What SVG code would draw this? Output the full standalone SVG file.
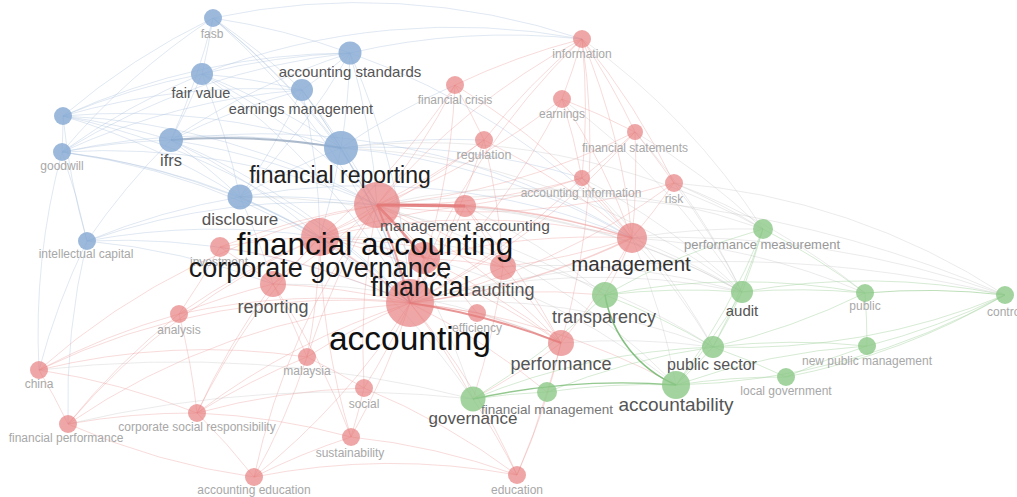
<svg xmlns="http://www.w3.org/2000/svg" width="1017" height="497" viewBox="0 0 1017 497">
<style>
text{font-family:"Liberation Sans",Arial,sans-serif;text-anchor:middle}
.e path{fill:none;stroke-width:.8}
.b{stroke:#a9bedb;stroke-opacity:.45}
.r{stroke:#e88e8e;stroke-opacity:.4}
.g{stroke:#98cc93;stroke-opacity:.5}
.x{stroke:#b5b5b5;stroke-opacity:.35}
.nb{fill:#86a9d3;fill-opacity:.82}
.nr{fill:#e67c7c;fill-opacity:.68}
.ng{fill:#8cc887;fill-opacity:.8}
.s{font-size:12px;fill:#a8a8a8}
.m{fill:#555}
</style>
<rect width="1017" height="497" fill="#fff"/>
<g id="connectors" class="e">
<path class="b" d="M213 18A700 700 0 0 1 202 74"/>
<path class="b" d="M213 18A700 700 0 0 1 350 53"/>
<path class="b" d="M213 18A700 700 0 0 1 302 90"/>
<path class="b" d="M213 18A700 700 0 0 1 171 140"/>
<path class="b" d="M213 18A700 700 0 0 1 341 148"/>
<path class="b" d="M63 116A700 700 0 0 1 213 18"/>
<path class="b" d="M213 18A700 700 0 0 1 582 39"/>
<path class="b" d="M213 18A700 700 0 0 1 377 205"/>
<path class="b" d="M62 152A700 700 0 0 1 213 18"/>
<path class="b" d="M213 18A700 700 0 0 1 410 303"/>
<path class="b" d="M202 74A700 700 0 0 1 350 53"/>
<path class="b" d="M202 74A700 700 0 0 1 302 90"/>
<path class="b" d="M202 74A700 700 0 0 1 171 140"/>
<path class="b" d="M202 74A700 700 0 0 1 341 148"/>
<path class="b" d="M63 116A700 700 0 0 1 202 74"/>
<path class="b" d="M62 152A700 700 0 0 1 202 74"/>
<path class="b" d="M202 74A700 700 0 0 1 377 205"/>
<path class="b" d="M202 74A700 700 0 0 1 240 197"/>
<path class="b" d="M202 74A700 700 0 0 1 410 303"/>
<path class="b" d="M202 74A700 700 0 0 1 582 39"/>
<path class="b" d="M350 53A700 700 0 0 1 302 90"/>
<path class="b" d="M171 140A700 700 0 0 1 350 53"/>
<path class="b" d="M350 53A700 700 0 0 1 341 148"/>
<path class="b" d="M350 53A700 700 0 0 1 377 205"/>
<path class="b" d="M350 53A700 700 0 0 1 240 197"/>
<path class="b" d="M350 53A700 700 0 0 1 410 303"/>
<path class="b" d="M62 152A700 700 0 0 1 350 53"/>
<path class="b" d="M63 116A700 700 0 0 1 350 53"/>
<path class="b" d="M350 53A700 700 0 0 1 632 238"/>
<path class="b" d="M350 53A700 700 0 0 1 582 39"/>
<path class="b" d="M171 140A700 700 0 0 1 302 90"/>
<path class="b" d="M302 90A700 700 0 0 1 341 148"/>
<path class="b" d="M302 90A700 700 0 0 1 240 197"/>
<path class="b" d="M302 90A700 700 0 0 1 377 205"/>
<path class="b" d="M302 90A700 700 0 0 1 320 237"/>
<path class="b" d="M302 90A700 700 0 0 1 410 303"/>
<path class="b" d="M63 116A700 700 0 0 1 302 90"/>
<path class="b" d="M62 152A700 700 0 0 1 302 90"/>
<path class="b" d="M63 116A700 700 0 0 1 62 152"/>
<path class="b" d="M63 116A700 700 0 0 1 171 140"/>
<path class="b" d="M63 116A700 700 0 0 1 341 148"/>
<path class="b" d="M63 116A700 700 0 0 1 377 205"/>
<path class="b" d="M63 116A700 700 0 0 1 240 197"/>
<path class="b" d="M63 116A700 700 0 0 1 410 303"/>
<path class="b" d="M87 241A700 700 0 0 1 63 116"/>
<path class="b" d="M62 152A700 700 0 0 1 171 140"/>
<path class="b" d="M62 152A700 700 0 0 1 341 148"/>
<path class="b" d="M62 152A700 700 0 0 1 240 197"/>
<path class="b" d="M62 152A700 700 0 0 1 87 241"/>
<path class="b" d="M62 152A700 700 0 0 1 377 205"/>
<path class="b" d="M62 152A700 700 0 0 1 410 303"/>
<path class="b" d="M39 370A700 700 0 0 1 62 152"/>
<path class="b" d="M62 152A700 700 0 0 1 320 237"/>
<path class="b" d="M171 140A700 700 0 0 1 240 197"/>
<path class="b" d="M171 140A700 700 0 0 1 377 205"/>
<path class="b" d="M171 140A700 700 0 0 1 410 303"/>
<path class="b" d="M171 140A700 700 0 0 1 320 237"/>
<path class="b" d="M171 140A700 700 0 0 1 632 238"/>
<path class="b" d="M87 241A700 700 0 0 1 171 140"/>
<path class="b" d="M240 197A700 700 0 0 1 341 148"/>
<path class="b" d="M341 148A700 700 0 0 1 320 237"/>
<path class="b" d="M341 148A700 700 0 0 1 632 238"/>
<path class="b" d="M341 148A700 700 0 0 1 582 178"/>
<path class="b" d="M341 148A700 700 0 0 1 484 140"/>
<path class="b" d="M341 148A700 700 0 0 1 455 85"/>
<path class="b" d="M240 197A700 700 0 0 1 377 205"/>
<path class="b" d="M240 197A700 700 0 0 1 320 237"/>
<path class="b" d="M240 197A700 700 0 0 1 410 303"/>
<path class="b" d="M87 241A700 700 0 0 1 240 197"/>
<path class="b" d="M240 197A700 700 0 0 1 273 284"/>
<path class="b" d="M240 197A700 700 0 0 1 632 238"/>
<path class="b" d="M87 241A700 700 0 0 1 377 205"/>
<path class="b" d="M87 241A700 700 0 0 1 410 303"/>
<path class="b" d="M87 241A700 700 0 0 1 320 237"/>
<path class="b" d="M87 241A700 700 0 0 1 273 284"/>
<path class="b" d="M39 370A700 700 0 0 1 87 241"/>
<path class="b" d="M68 424A700 700 0 0 1 87 241"/>
<path class="b" d="M171 140A700 700 0 0 1 341 148" style="stroke:#8c9fb8;stroke-opacity:.7;stroke-width:2"/>
<path class="b" d="M341 148A700 700 0 0 1 410 303" style="stroke-width:1.4"/>
<path class="r" d="M377 205A700 700 0 0 1 582 39"/>
<path class="r" d="M410 303A700 700 0 0 1 582 39"/>
<path class="r" d="M582 39A700 700 0 0 1 562 99"/>
<path class="r" d="M582 39A700 700 0 0 1 635 132"/>
<path class="r" d="M582 39A700 700 0 0 1 582 178"/>
<path class="r" d="M582 39A700 700 0 0 1 632 238"/>
<path class="r" d="M484 140A700 700 0 0 1 582 39"/>
<path class="r" d="M455 85A700 700 0 0 1 582 39"/>
<path class="r" d="M582 39A700 700 0 0 1 561 343"/>
<path class="r" d="M582 39A700 700 0 0 1 674 183"/>
<path class="r" d="M455 85A700 700 0 0 1 377 205"/>
<path class="r" d="M455 85A700 700 0 0 1 410 303"/>
<path class="r" d="M455 85A700 700 0 0 1 484 140"/>
<path class="r" d="M455 85A700 700 0 0 1 320 237"/>
<path class="r" d="M455 85A700 700 0 0 1 632 238"/>
<path class="r" d="M562 99A700 700 0 0 1 377 205"/>
<path class="r" d="M562 99A700 700 0 0 1 410 303"/>
<path class="r" d="M562 99A700 700 0 0 1 582 178"/>
<path class="r" d="M562 99A700 700 0 0 1 632 238"/>
<path class="r" d="M562 99A700 700 0 0 1 635 132"/>
<path class="r" d="M484 140A700 700 0 0 1 377 205"/>
<path class="r" d="M484 140A700 700 0 0 1 410 303"/>
<path class="r" d="M484 140A700 700 0 0 1 320 237"/>
<path class="r" d="M484 140A700 700 0 0 1 503 267"/>
<path class="r" d="M484 140A700 700 0 0 1 632 238"/>
<path class="r" d="M635 132A700 700 0 0 1 582 178"/>
<path class="r" d="M635 132A700 700 0 0 1 377 205"/>
<path class="r" d="M635 132A700 700 0 0 1 410 303"/>
<path class="r" d="M635 132A700 700 0 0 1 632 238"/>
<path class="r" d="M635 132A700 700 0 0 1 674 183"/>
<path class="r" d="M582 178A700 700 0 0 1 377 205"/>
<path class="r" d="M582 178A700 700 0 0 1 410 303"/>
<path class="r" d="M582 178A700 700 0 0 1 632 238"/>
<path class="r" d="M582 178A700 700 0 0 1 465 206"/>
<path class="r" d="M674 183A700 700 0 0 1 632 238"/>
<path class="r" d="M674 183A700 700 0 0 1 410 303"/>
<path class="r" d="M674 183A700 700 0 0 1 377 205"/>
<path class="x" d="M674 183A700 700 0 0 1 1005 295"/>
<path class="x" d="M674 183A700 700 0 0 1 742 292"/>
<path class="x" d="M674 183A700 700 0 0 1 763 229"/>
<path class="x" d="M674 183A700 700 0 0 1 865 293"/>
<path class="x" d="M582 39A700 700 0 0 1 763 229"/>
<path class="x" d="M635 132A700 700 0 0 1 763 229"/>
<path class="x" d="M635 132A700 700 0 0 1 742 292"/>
<path class="x" d="M562 99A700 700 0 0 1 742 292"/>
<path class="x" d="M582 178A700 700 0 0 1 742 292"/>
<path class="x" d="M582 178A700 700 0 0 1 713 347"/>
<path class="r" d="M377 205A700 700 0 0 1 320 237"/>
<path class="r" d="M377 205A700 700 0 0 1 632 238" style="stroke-width:1.5"/>
<path class="r" d="M377 205A700 700 0 0 1 503 267"/>
<path class="r" d="M377 205A700 700 0 0 1 273 284"/>
<path class="r" d="M220 247A700 700 0 0 1 377 205"/>
<path class="r" d="M377 205A700 700 0 0 1 561 343"/>
<path class="r" d="M377 205A700 700 0 0 1 477 313"/>
<path class="r" d="M465 206A700 700 0 0 1 410 303"/>
<path class="r" d="M465 206A700 700 0 0 1 632 238"/>
<path class="r" d="M465 206A700 700 0 0 1 503 267"/>
<path class="r" d="M320 237A700 700 0 0 1 465 206"/>
<path class="r" d="M465 206A700 700 0 0 1 561 343"/>
<path class="r" d="M320 237A700 700 0 0 1 424 258"/>
<path class="r" d="M320 237A700 700 0 0 1 410 303" style="stroke-width:1.5"/>
<path class="r" d="M320 237A700 700 0 0 1 273 284"/>
<path class="r" d="M320 237A700 700 0 0 1 503 267"/>
<path class="r" d="M320 237A700 700 0 0 1 632 238"/>
<path class="r" d="M220 247A700 700 0 0 1 320 237"/>
<path class="r" d="M320 237A700 700 0 0 1 561 343"/>
<path class="r" d="M320 237A700 700 0 0 1 307 357"/>
<path class="r" d="M179 314A700 700 0 0 1 320 237"/>
<path class="r" d="M197 413A700 700 0 0 1 320 237"/>
<path class="r" d="M424 258A700 700 0 0 1 410 303"/>
<path class="r" d="M424 258A700 700 0 0 1 632 238"/>
<path class="r" d="M424 258A700 700 0 0 1 503 267"/>
<path class="r" d="M424 258A700 700 0 0 1 561 343"/>
<path class="r" d="M632 238A700 700 0 0 1 410 303" style="stroke-width:1.5"/>
<path class="r" d="M632 238A700 700 0 0 1 503 267"/>
<path class="r" d="M632 238A700 700 0 0 1 561 343"/>
<path class="r" d="M632 238A700 700 0 0 1 605 295"/>
<path class="x" d="M632 238A700 700 0 0 1 763 229"/>
<path class="x" d="M632 238A700 700 0 0 1 742 292"/>
<path class="x" d="M632 238A700 700 0 0 1 865 293"/>
<path class="x" d="M632 238A1000 1000 0 0 1 1005 295"/>
<path class="r" d="M503 267A700 700 0 0 1 410 303"/>
<path class="r" d="M503 267A700 700 0 0 1 561 343"/>
<path class="r" d="M503 267A700 700 0 0 1 473 399"/>
<path class="r" d="M220 247A700 700 0 0 1 410 303"/>
<path class="r" d="M220 247A700 700 0 0 1 273 284"/>
<path class="r" d="M220 247A700 700 0 0 1 179 314"/>
<path class="r" d="M273 284A700 700 0 0 1 410 303"/>
<path class="r" d="M179 314A700 700 0 0 1 273 284"/>
<path class="r" d="M273 284A700 700 0 0 1 307 357"/>
<path class="r" d="M197 413A700 700 0 0 1 273 284"/>
<path class="r" d="M273 284A700 700 0 0 1 351 437"/>
<path class="r" d="M179 314A700 700 0 0 1 410 303"/>
<path class="r" d="M39 370A700 700 0 0 1 179 314"/>
<path class="r" d="M68 424A700 700 0 0 1 179 314"/>
<path class="r" d="M179 314A700 700 0 0 1 197 413"/>
<path class="r" d="M410 303A700 700 0 0 1 477 313"/>
<path class="r" d="M477 313A700 700 0 0 1 561 343"/>
<path class="r" d="M307 357A700 700 0 0 1 410 303"/>
<path class="r" d="M410 303A700 700 0 0 1 364 388"/>
<path class="r" d="M410 303A700 700 0 0 1 351 437"/>
<path class="r" d="M410 303A700 700 0 0 1 517 475"/>
<path class="r" d="M410 303A700 700 0 0 1 254 477"/>
<path class="r" d="M197 413A700 700 0 0 1 410 303"/>
<path class="r" d="M410 303A700 700 0 0 1 473 399"/>
<path class="r" d="M410 303A700 700 0 0 1 547 392"/>
<path class="r" d="M410 303A700 700 0 0 1 605 295"/>
<path class="r" d="M410 303A700 700 0 0 1 676 385"/>
<path class="r" d="M39 370A700 700 0 0 1 410 303"/>
<path class="r" d="M68 424A700 700 0 0 1 410 303"/>
<path class="r" d="M561 343A700 700 0 0 1 473 399"/>
<path class="r" d="M561 343A700 700 0 0 1 547 392"/>
<path class="r" d="M561 343A700 700 0 0 1 517 475"/>
<path class="x" d="M561 343A700 700 0 0 1 713 347"/>
<path class="r" d="M39 370A700 700 0 0 1 307 357"/>
<path class="r" d="M197 413A700 700 0 0 1 307 357"/>
<path class="r" d="M307 357A700 700 0 0 1 364 388"/>
<path class="r" d="M307 357A700 700 0 0 1 254 477"/>
<path class="r" d="M39 370A700 700 0 0 1 68 424"/>
<path class="r" d="M39 370A700 700 0 0 1 197 413"/>
<path class="r" d="M39 370A700 700 0 0 1 377 205"/>
<path class="r" d="M197 413A700 700 0 0 1 364 388"/>
<path class="r" d="M364 388A700 700 0 0 1 351 437"/>
<path class="r" d="M364 388A700 700 0 0 1 517 475"/>
<path class="r" d="M68 424A700 700 0 0 1 197 413"/>
<path class="r" d="M197 413A700 700 0 0 1 351 437"/>
<path class="r" d="M197 413A700 700 0 0 1 254 477"/>
<path class="r" d="M68 424A700 700 0 0 0 254 477"/>
<path class="r" d="M254 477A700 700 0 0 1 351 437"/>
<path class="r" d="M351 437A700 700 0 0 1 517 475"/>
<path class="r" d="M254 477A700 700 0 0 1 517 475"/>
<path class="r" d="M307 357A700 700 0 0 1 377 205"/>
<path class="r" d="M364 388A700 700 0 0 1 377 205"/>
<path class="r" d="M351 437A700 700 0 0 1 320 237"/>
<path class="r" d="M254 477A700 700 0 0 1 377 205"/>
<path class="r" d="M68 424A700 700 0 0 1 320 237"/>
<path class="x" d="M320 237A700 700 0 0 1 473 399"/>
<path class="x" d="M377 205A700 700 0 0 1 473 399"/>
<path class="x" d="M410 303A1200 1200 0 0 1 1005 295"/>
<path class="x" d="M377 205A700 700 0 0 1 763 229"/>
<path class="x" d="M377 205A1200 1200 0 0 1 1005 295"/>
<path class="x" d="M341 148A700 700 0 0 1 763 229"/>
<path class="x" d="M341 148A700 700 0 0 1 742 292"/>
<path class="x" d="M240 197A700 700 0 0 1 605 295"/>
<path class="x" d="M320 237A700 700 0 0 1 676 385"/>
<path class="x" d="M320 237A700 700 0 0 1 713 347"/>
<path class="x" d="M377 205A700 700 0 0 1 676 385"/>
<path class="x" d="M377 205A700 700 0 0 1 742 292"/>
<path class="x" d="M273 284A700 700 0 0 1 561 343"/>
<path class="x" d="M465 206A700 700 0 0 1 605 295"/>
<path class="x" d="M465 206A700 700 0 0 1 742 292"/>
<path class="x" d="M39 370A1200 1200 0 0 1 473 399"/>
<path class="x" d="M68 424A1200 1200 0 0 1 473 399"/>
<path class="x" d="M632 238A700 700 0 0 1 713 347"/>
<path class="x" d="M632 238A700 700 0 0 1 676 385"/>
<path class="x" d="M410 303A700 700 0 0 1 713 347"/>
<path class="x" d="M410 303A700 700 0 0 1 742 292"/>
<path class="x" d="M503 267A700 700 0 0 1 742 292"/>
<path class="g" d="M605 295A700 700 0 0 1 713 347"/>
<path class="g" d="M605 295A700 700 0 0 1 742 292"/>
<path class="g" d="M605 295A700 700 0 0 1 473 399"/>
<path class="g" d="M605 295A700 700 0 0 1 763 229"/>
<path class="g" d="M605 295A700 700 0 0 1 865 293"/>
<path class="g" d="M763 229A700 700 0 0 1 742 292"/>
<path class="g" d="M763 229A700 700 0 0 1 713 347"/>
<path class="g" d="M763 229A700 700 0 0 1 676 385"/>
<path class="g" d="M763 229A700 700 0 0 1 865 293"/>
<path class="g" d="M742 292A700 700 0 0 1 865 293"/>
<path class="g" d="M742 292A700 700 0 0 1 713 347"/>
<path class="g" d="M742 292A700 700 0 0 1 676 385"/>
<path class="g" d="M742 292A700 700 0 0 1 1005 295"/>
<path class="g" d="M865 293A700 700 0 0 1 1005 295" style="stroke-opacity:.8"/>
<path class="g" d="M865 293A700 700 0 0 1 867 346"/>
<path class="g" d="M865 293A700 700 0 0 1 713 347"/>
<path class="g" d="M1005 295A700 700 0 0 1 867 346"/>
<path class="g" d="M1005 295A700 700 0 0 1 676 385"/>
<path class="g" d="M1005 295A700 700 0 0 1 713 347"/>
<path class="g" d="M1005 295A700 700 0 0 1 786 377"/>
<path class="g" d="M713 347A700 700 0 0 1 676 385"/>
<path class="g" d="M713 347A700 700 0 0 1 786 377"/>
<path class="g" d="M713 347A700 700 0 0 1 867 346"/>
<path class="g" d="M676 385A700 700 0 0 1 786 377"/>
<path class="g" d="M547 392A700 700 0 0 1 676 385"/>
<path class="g" d="M676 385A700 700 0 0 1 867 346"/>
<path class="g" d="M786 377A700 700 0 0 1 867 346"/>
<path class="g" d="M473 399A700 700 0 0 1 547 392"/>
<path class="g" d="M547 392A700 700 0 0 1 713 347"/>
<path class="g" d="M473 399A700 700 0 0 1 713 347"/>
<path class="r" d="M473 399A700 700 0 0 1 517 475"/>
<path class="r" d="M547 392A700 700 0 0 1 517 475"/>
<path class="g" d="M473 399A700 700 0 0 1 676 385" style="stroke:#6fb56a;stroke-opacity:.75;stroke-width:1.4"/>
<path class="g" d="M605 295A120 120 0 0 0 676 385" style="stroke:#6fb56a;stroke-opacity:.85;stroke-width:1.5"/>
<path class="r" d="M377 205L465 206" style="stroke:#e06a6a;stroke-opacity:.8;stroke-width:3"/>
<path class="r" d="M377 205A700 700 0 0 1 424 258" style="stroke:#e06a6a;stroke-opacity:.7;stroke-width:2.5"/>
<path class="r" d="M377 205A700 700 0 0 1 410 303" style="stroke:#e06a6a;stroke-opacity:.6;stroke-width:2"/>
<path class="r" d="M410 303A700 700 0 0 1 561 343" style="stroke:#e06a6a;stroke-opacity:.7;stroke-width:2"/>
</g>
<g id="n-fasb"><circle class="nb" cx="213" cy="18" r="9"/><text class="s" x="212" y="38">fasb</text></g>
<g id="n-unlabelled"><circle class="nb" cx="63" cy="116" r="9"/></g>
<g id="n-goodwill"><circle class="nb" cx="62" cy="152" r="9"/><text class="s" x="62" y="170">goodwill</text></g>
<g id="n-intellectual-capital"><circle class="nb" cx="87" cy="241" r="9"/><text class="s" x="86" y="258">intellectual capital</text></g>
<g id="n-information"><circle class="nr" cx="582" cy="39" r="9"/><text class="s" x="582" y="58">information</text></g>
<g id="n-financial-crisis"><circle class="nr" cx="455" cy="85" r="9"/><text class="s" x="455" y="104">financial crisis</text></g>
<g id="n-earnings"><circle class="nr" cx="562" cy="99" r="9"/><text class="s" x="562" y="118">earnings</text></g>
<g id="n-regulation"><circle class="nr" cx="484" cy="140" r="9"/><text class="s" x="484" y="159" style="font-size:12.5px">regulation</text></g>
<g id="n-financial-statements"><circle class="nr" cx="635" cy="132" r="8"/><text class="s" x="635" y="152">financial statements</text></g>
<g id="n-accounting-information"><circle class="nr" cx="582" cy="178" r="8"/><text class="s" x="581" y="197">accounting information</text></g>
<g id="n-risk"><circle class="nr" cx="674" cy="183" r="9"/><text class="s" x="674" y="203">risk</text></g>
<g id="n-investment"><circle class="nr" cx="220" cy="247" r="10"/><text class="s" x="219" y="266">investment</text></g>
<g id="n-analysis"><circle class="nr" cx="179" cy="314" r="9"/><text class="s" x="179" y="334">analysis</text></g>
<g id="n-efficiency"><circle class="nr" cx="477" cy="313" r="9"/><text class="s" x="477" y="332">efficiency</text></g>
<g id="n-malaysia"><circle class="nr" cx="307" cy="357" r="9"/><text class="s" x="307" y="375">malaysia</text></g>
<g id="n-china"><circle class="nr" cx="39" cy="370" r="9"/><text class="s" x="39" y="388">china</text></g>
<g id="n-social"><circle class="nr" cx="364" cy="388" r="9"/><text class="s" x="364" y="408">social</text></g>
<g id="n-csr"><circle class="nr" cx="197" cy="413" r="9"/><text class="s" x="197" y="431">corporate social responsibility</text></g>
<g id="n-financial-performance"><circle class="nr" cx="68" cy="424" r="9"/><text class="s" x="66" y="442">financial performance</text></g>
<g id="n-sustainability"><circle class="nr" cx="351" cy="437" r="9"/><text class="s" x="350" y="457">sustainability</text></g>
<g id="n-accounting-education"><circle class="nr" cx="254" cy="477" r="9"/><text class="s" x="254" y="494">accounting education</text></g>
<g id="n-education"><circle class="nr" cx="517" cy="475" r="9"/><text class="s" x="517" y="494">education</text></g>
<g id="n-public"><circle class="ng" cx="865" cy="293" r="9"/><text class="s" x="865" y="310">public</text></g>
<g id="n-control"><circle class="ng" cx="1005" cy="295" r="9"/><text class="s" x="1005" y="316">control</text></g>
<g id="n-new-public-management"><circle class="ng" cx="867" cy="346" r="9"/><text class="s" x="867" y="365">new public management</text></g>
<g id="n-local-government"><circle class="ng" cx="786" cy="377" r="9"/><text class="s" x="786" y="395">local government</text></g>
<g id="n-performance-measurement"><circle class="ng" cx="763" cy="229" r="10"/><text class="s" x="762" y="249" style="font-size:13px;fill:#999">performance measurement</text></g>
<g id="n-financial-management"><circle class="ng" cx="547" cy="392" r="10"/><text x="547" y="414" style="font-size:13.5px;fill:#777">financial management</text></g>
<g id="n-fair-value"><circle class="nb" cx="202" cy="74" r="11"/><text class="m" x="201" y="98" style="font-size:14.5px">fair value</text></g>
<g id="n-accounting-standards"><circle class="nb" cx="350" cy="53" r="11.5"/><text class="m" x="350" y="77" style="font-size:15px">accounting standards</text></g>
<g id="n-earnings-management"><circle class="nb" cx="302" cy="90" r="11"/><text class="m" x="301" y="114" style="font-size:14.5px">earnings management</text></g>
<g id="n-ifrs"><circle class="nb" cx="171" cy="140" r="12"/><text class="m" x="171" y="166" style="font-size:16.5px">ifrs</text></g>
<g id="n-disclosure"><circle class="nb" cx="240" cy="197" r="12.5"/><text class="m" x="240" y="225" style="font-size:17px">disclosure</text></g>
<g id="n-audit"><circle class="ng" cx="742" cy="292" r="11"/><text class="m" x="742" y="316" style="font-size:15px">audit</text></g>
<g id="n-public-sector"><circle class="ng" cx="713" cy="347" r="11"/><text class="m" x="712" y="370" style="font-size:16px">public sector</text></g>
<g id="n-governance"><circle class="ng" cx="473" cy="399" r="12.5"/><text class="m" x="473" y="424" style="font-size:17px">governance</text></g>
<g id="n-transparency"><circle class="ng" cx="605" cy="295" r="13"/><text class="m" x="604" y="323" style="font-size:18px">transparency</text></g>
<g id="n-accountability"><circle class="ng" cx="676" cy="385" r="14"/><text class="m" x="676" y="411" style="font-size:19px">accountability</text></g>
<g id="n-performance"><circle class="nr" cx="561" cy="343" r="13"/><text class="m" x="561" y="370" style="font-size:18px">performance</text></g>
<g id="n-reporting"><circle class="nr" cx="273" cy="284" r="13"/><text class="m" x="273" y="313" style="font-size:18px">reporting</text></g>
<g id="n-auditing"><circle class="nr" cx="503" cy="267" r="13"/><text class="m" x="503" y="296" style="font-size:18px">auditing</text></g>
<g id="n-management"><circle class="nr" cx="632" cy="238" r="15"/><text x="631" y="271" style="font-size:20.5px;fill:#333">management</text></g>
<g id="n-accounting"><circle class="nr" cx="410" cy="303" r="24"/><text x="410" y="350" style="font-size:33.5px;fill:#111">accounting</text></g>
<g id="n-financial"><circle class="nr" cx="424" cy="258" r="16"/><text x="420" y="296" style="font-size:27px;fill:#1a1a1a">financial</text></g>
<g id="n-corporate-governance"><circle class="nr" cx="320" cy="237" r="19"/><text x="320" y="277" style="font-size:27px;fill:#1a1a1a">corporate governance</text></g>
<g id="n-financial-accounting"><circle class="nr" cx="377" cy="205" r="23"/><text x="375" y="255" style="font-size:31.5px;fill:#111">financial accounting</text></g>
<g id="n-management-accounting"><circle class="nr" cx="465" cy="206" r="11"/><text x="465" y="231" style="font-size:15.5px;fill:#555">management accounting</text></g>
<g id="n-financial-reporting"><circle class="nb" cx="341" cy="148" r="17"/><text x="340" y="183" style="font-size:23px;fill:#222">financial reporting</text></g>
</svg>
